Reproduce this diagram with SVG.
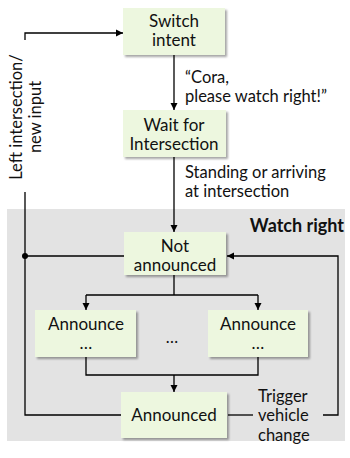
<svg xmlns="http://www.w3.org/2000/svg" width="350" height="458" viewBox="0 0 350 458">
<defs>
<filter id="sh" x="-10%" y="-10%" width="130%" height="140%">
<feDropShadow dx="2" dy="2" stdDeviation="1.2" flood-color="#000" flood-opacity="0.35"/>
</filter>
<marker id="ah" markerWidth="8" markerHeight="8" refX="7" refY="4" orient="auto" markerUnits="userSpaceOnUse">
<path d="M0,0.5 L7,4 L0,7.5 Z" fill="#000"/>
</marker>
</defs>
<style>
.box{fill:#EDF7DF;filter:url(#sh)}
.t{font-family:Lato,"Open Sans",sans-serif;font-size:17px;fill:#111;text-anchor:middle}
.l{font-family:Lato,"Open Sans",sans-serif;font-size:16.5px;fill:#111}
.c{fill:none;stroke:#000;stroke-width:1.3}
</style>
<rect x="7" y="209" width="338" height="232" fill="#E3E3E3"/>
<text x="344" y="232" font-family="Lato, Open Sans, sans-serif" font-size="18" font-weight="bold" text-anchor="end" fill="#111">Watch right</text>
<g id="connectors">
<path class="c" d="M25,192 V415 H121"/>
<path class="c" d="M25,40 V33 H123" marker-end="url(#ah)"/>
<path class="c" d="M25,256 H124"/>
<circle cx="25" cy="256" r="3" fill="#000"/>
<path class="c" d="M174,55 V110" marker-end="url(#ah)"/>
<path class="c" d="M174,157 V232" marker-end="url(#ah)"/>
<path class="c" d="M174,275 V295"/>
<path class="c" d="M86,295 H258"/>
<path class="c" d="M86,295 V310" marker-end="url(#ah)"/>
<path class="c" d="M258,295 V310" marker-end="url(#ah)"/>
<path class="c" d="M86,357 V375 H258 V357"/>
<path class="c" d="M174,375 V392" marker-end="url(#ah)"/>
<path class="c" d="M228,415 H253"/>
<path class="c" d="M323,415 H338 V256 H227" marker-end="url(#ah)"/>
<text class="l" transform="translate(22,117) rotate(-90)" text-anchor="middle">Left intersection/</text>
<text class="l" transform="translate(41,117) rotate(-90)" text-anchor="middle">new input</text>
<text class="l" x="185" y="83">“Cora,</text>
<text class="l" x="185" y="102">please watch right!”</text>
<text class="l" x="185" y="178">Standing or arriving</text>
<text class="l" x="185" y="197">at intersection</text>
<text class="l" x="258" y="402">Trigger</text>
<text class="l" x="258" y="421">vehicle</text>
<text class="l" x="258" y="441">change</text>
<text class="l" x="172" y="343" text-anchor="middle">…</text>
</g>
<g id="switch-intent">
<rect class="box" x="123" y="8" width="102" height="47"/>
<text class="t" x="174" y="27">Switch</text>
<text class="t" x="174" y="46">intent</text>
</g>
<g id="wait-for-intersection">
<rect class="box" x="123" y="110" width="103" height="47"/>
<text class="t" x="174" y="131">Wait for</text>
<text class="t" x="174" y="150">Intersection</text>
</g>
<g id="not-announced">
<rect class="box" x="124" y="232" width="102" height="43"/>
<text class="t" x="175" y="252">Not</text>
<text class="t" x="175" y="271">announced</text>
</g>
<g id="announce-left">
<rect class="box" x="35" y="310" width="101" height="47"/>
<text class="t" x="86" y="330">Announce</text>
<text class="t" x="86" y="349">…</text>
</g>
<g id="announce-right">
<rect class="box" x="208" y="310" width="100" height="47"/>
<text class="t" x="258" y="330">Announce</text>
<text class="t" x="258" y="349">…</text>
</g>
<g id="announced">
<rect class="box" x="121" y="392" width="106" height="46"/>
<text class="t" x="174" y="421">Announced</text>
</g>
</svg>
